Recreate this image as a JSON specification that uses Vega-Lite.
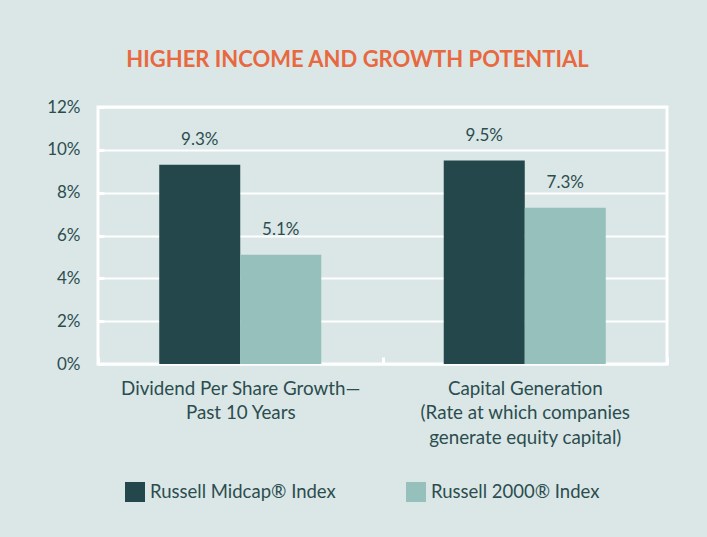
{
  "$schema": "https://vega.github.io/schema/vega-lite/v6.json",
  "autosize": {"type": "none"},
  "width": 569,
  "height": 257,
  "padding": {"left": 98, "top": 107, "right": 40, "bottom": 173},
  "background": "#dae7e6",
  "title": {
    "text": "HIGHER INCOME AND GROWTH POTENTIAL",
    "font": "Lato",
    "fontSize": 22,
    "fontWeight": "bold",
    "color": "#e8683f",
    "anchor": "middle",
    "frame": "group",
    "dx": -25,
    "baseline": "alphabetic",
    "offset": 9
  },
  "data": {
    "values": [
      {"category": "Dividend Per Share Growth—|Past 10 Years", "index": "Russell Midcap® Index", "value": 0.093},
      {"category": "Dividend Per Share Growth—|Past 10 Years", "index": "Russell 2000® Index", "value": 0.051},
      {"category": "Capital Generation|(Rate at which companies|generate equity capital)", "index": "Russell Midcap® Index", "value": 0.095},
      {"category": "Capital Generation|(Rate at which companies|generate equity capital)", "index": "Russell 2000® Index", "value": 0.073}
    ]
  },
  "encoding": {
    "x": {
      "field": "category",
      "type": "nominal",
      "sort": null,
      "title": null,
      "scale": {"paddingInner": 0, "paddingOuter": 0},
      "axis": {
        "domain": false,
        "labelAngle": 0,
        "labelExpr": "split(datum.label, '|')",
        "labelFont": "Lato",
        "labelFontSize": 18.8,
        "labelColor": "#2c4d4f",
        "labelLineHeight": 24.5,
        "labelPadding": 22,
        "labelLimit": 0,
        "tickBand": "extent",
        "tickSize": -7,
        "tickWidth": 3,
        "tickColor": "white",
        "grid": false
      }
    },
    "xOffset": {
      "field": "index",
      "type": "nominal",
      "sort": ["Russell Midcap® Index", "Russell 2000® Index"],
      "scale": {"paddingInner": 0, "paddingOuter": 0.756}
    },
    "y": {
      "field": "value",
      "type": "quantitative",
      "title": null,
      "scale": {"domain": [0, 0.12], "nice": false},
      "axis": {
        "values": [0, 0.02, 0.04, 0.06, 0.08, 0.1, 0.12],
        "format": ".0%",
        "domain": false,
        "grid": true,
        "gridColor": "white",
        "gridWidth": 2,
        "gridOpacity": 1,
        "tickSize": -6,
        "tickWidth": 3,
        "tickColor": "white",
        "labelFont": "Lato",
        "labelFontSize": 17,
        "labelColor": "#2c4d4f",
        "labelPadding": 24
      }
    }
  },
  "layer": [
    {
      "mark": {"type": "bar"},
      "encoding": {
        "color": {
          "field": "index",
          "type": "nominal",
          "scale": {"domain": ["Russell Midcap® Index", "Russell 2000® Index"], "range": ["#23474a", "#95c0bb"]},
          "legend": {
            "title": null,
            "orient": "none",
            "legendX": 27,
            "legendY": 375,
            "direction": "horizontal",
            "symbolType": "square",
            "symbolSize": 400,
            "symbolStrokeWidth": 0,
            "symbolOpacity": 1,
            "labelFont": "Lato",
            "labelFontSize": 18.5,
            "labelColor": "#2c4d4f",
            "labelOffset": 5,
            "columnPadding": 70,
            "labelLimit": 300
          }
        }
      }
    },
    {
      "mark": {"type": "text", "baseline": "alphabetic", "dy": -20, "font": "Lato", "fontSize": 17, "color": "#2c4d4f"},
      "encoding": {
        "text": {"field": "value", "type": "quantitative", "format": ".1%"}
      }
    }
  ],
  "config": {
    "view": {"stroke": "white", "strokeWidth": 3, "fill": null}
  }
}
